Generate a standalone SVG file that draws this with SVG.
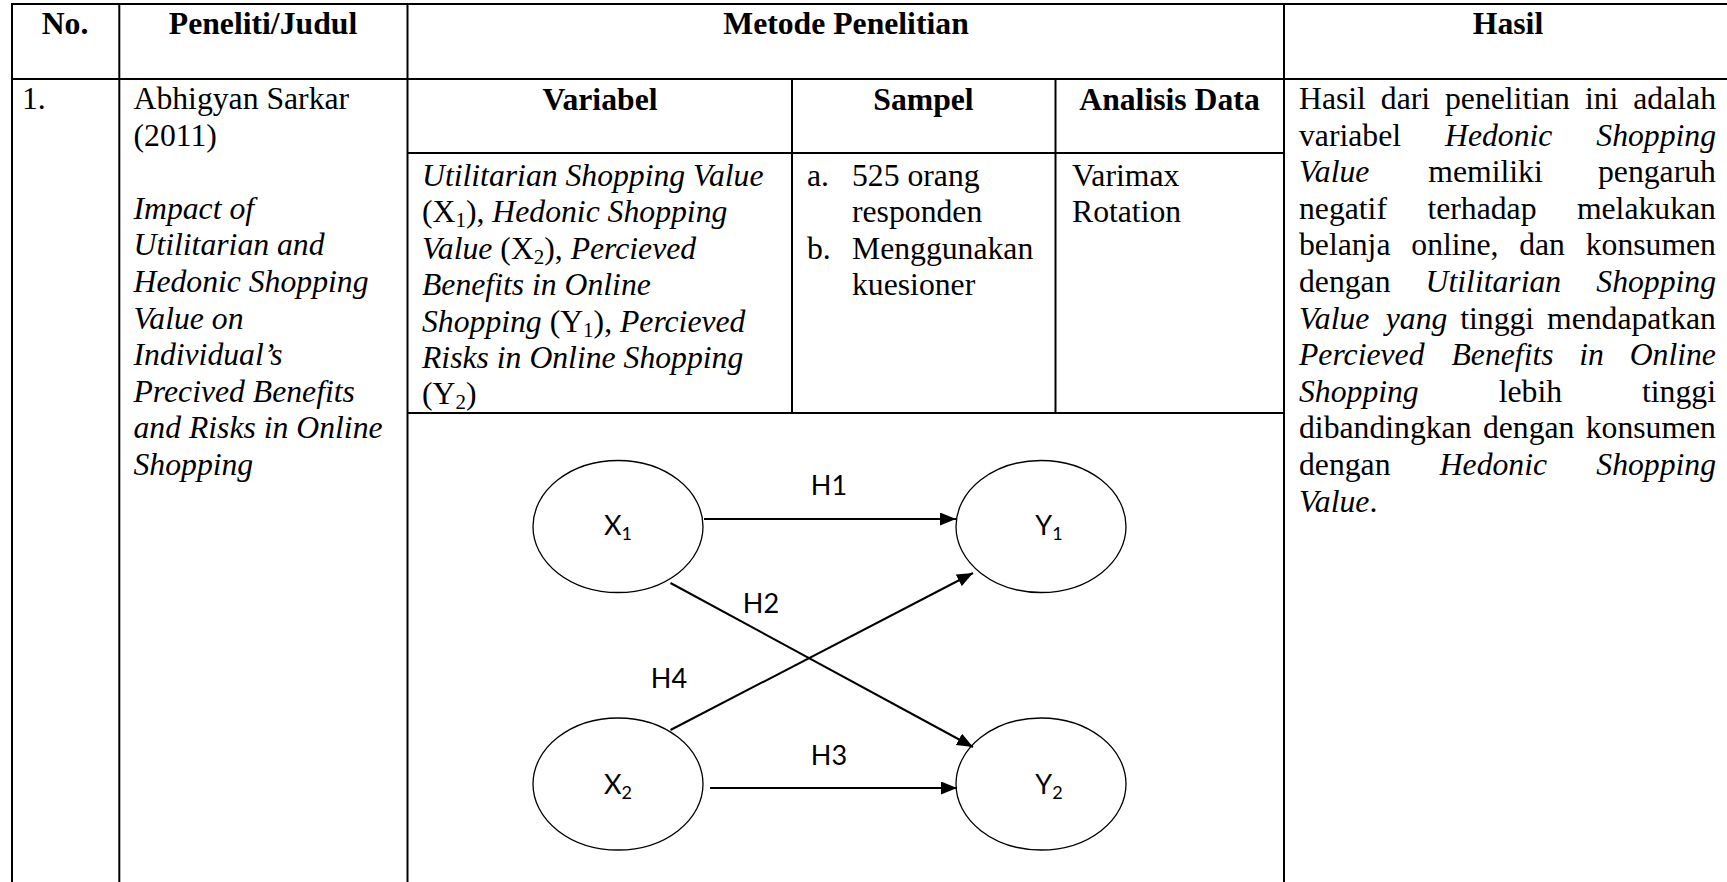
<svg xmlns="http://www.w3.org/2000/svg" width="1727" height="882" viewBox="0 0 1727 882">
<defs>
<style>
.t{font-family:"Liberation Serif","Times New Roman",serif;font-size:31.7px;fill:#000}
.b{font-weight:bold}
.i{font-style:italic}
.c{text-anchor:middle}
.e{text-anchor:end}
.s{font-size:21px}
.grid line{stroke:#000;stroke-width:2;fill:none}
.node ellipse{fill:none;stroke:#000;stroke-width:1.3}
.lbl{font-family:Lato,"Open Sans",sans-serif;font-size:27px;fill:#000;text-anchor:middle}
.lbl .s{font-size:18px}
.edge{stroke:#000;stroke-width:2;fill:none;marker-end:url(#arrow)}
</style>
<marker id="arrow" markerUnits="userSpaceOnUse" markerWidth="16" markerHeight="13" refX="16" refY="6.5" orient="auto"><path d="M0,0 L16,6.5 L0,13 Z" fill="#000"/></marker>
</defs>
<rect width="1727" height="882" fill="#fff"/>

<!-- table rules -->
<g id="grid" class="grid">
<line x1="11" y1="4" x2="1727" y2="4"/>
<line x1="11" y1="79" x2="1727" y2="79"/>
<line x1="12" y1="3" x2="12" y2="882"/>
<line x1="119.3" y1="3" x2="119.3" y2="882"/>
<line x1="407.5" y1="3" x2="407.5" y2="882"/>
<line x1="1284" y1="3" x2="1284" y2="882"/>
<line x1="407.5" y1="153" x2="1284" y2="153"/>
<line x1="407.5" y1="413" x2="1284" y2="413"/>
<line x1="792" y1="79" x2="792" y2="413"/>
<line x1="1055.5" y1="79" x2="1055.5" y2="413"/>
</g>

<!-- header row -->
<g id="header" class="t b c">
<text x="65" y="34">No.</text>
<text x="263" y="34">Peneliti/Judul</text>
<text x="846" y="34">Metode Penelitian</text>
<text x="1508" y="34">Hasil</text>
</g>

<!-- column 1: number -->
<g id="cell-no" class="t">
<text x="22" y="109">1.</text>
</g>

<!-- column 2: author and title -->
<g id="cell-title" class="t">
<text x="133.5" y="109">Abhigyan Sarkar</text>
<text x="133.5" y="145.6">(2011)</text>
<g class="i">
<text x="133.5" y="218.8">Impact of</text>
<text x="133.5" y="255.4">Utilitarian and</text>
<text x="133.5" y="292">Hedonic Shopping</text>
<text x="133.5" y="328.6">Value on</text>
<text x="133.5" y="365.2">Individual’s</text>
<text x="133.5" y="401.8">Precived Benefits</text>
<text x="133.5" y="438.4">and Risks in Online</text>
<text x="133.5" y="475">Shopping</text>
</g>
</g>

<!-- method sub-headers -->
<g id="method-header" class="t b c">
<text x="600" y="110">Variabel</text>
<text x="923.5" y="110">Sampel</text>
<text x="1169.5" y="110">Analisis Data</text>
</g>

<!-- variables -->
<g id="cell-variabel" class="t">
<text x="422" y="186"><tspan class="i">Utilitarian Shopping Value</tspan></text>
<text x="422" y="222.4">(X<tspan class="s" dy="5">1</tspan><tspan dy="-5">), </tspan><tspan class="i">Hedonic Shopping</tspan></text>
<text x="422" y="258.8"><tspan class="i">Value</tspan> (X<tspan class="s" dy="5">2</tspan><tspan dy="-5">), </tspan><tspan class="i">Percieved</tspan></text>
<text x="422" y="295.2"><tspan class="i">Benefits in Online</tspan></text>
<text x="422" y="331.6"><tspan class="i">Shopping</tspan> (Y<tspan class="s" dy="5">1</tspan><tspan dy="-5">), </tspan><tspan class="i">Percieved</tspan></text>
<text x="422" y="368"><tspan class="i">Risks in Online Shopping</tspan></text>
<text x="422" y="404.4">(Y<tspan class="s" dy="5">2</tspan><tspan dy="-5">)</tspan></text>
</g>

<!-- sample -->
<g id="cell-sampel" class="t">
<text x="807" y="186">a.</text>
<text x="852" y="186">525 orang</text>
<text x="852" y="222.4">responden</text>
<text x="807" y="258.8">b.</text>
<text x="852" y="258.8">Menggunakan</text>
<text x="852" y="295.2">kuesioner</text>
</g>

<!-- analysis -->
<g id="cell-analisis" class="t">
<text x="1072" y="186">Varimax</text>
<text x="1072" y="222.4">Rotation</text>
</g>

<!-- results, justified word by word between x=1299 and x=1716 -->
<g id="cell-hasil" class="t">
<text y="109"><tspan x="1299">Hasil</tspan><tspan x="1380.8">dari</tspan><tspan x="1445">penelitian</tspan><tspan x="1584.9">ini</tspan><tspan x="1633.3">adalah</tspan></text>
<text y="145.6"><tspan x="1299">variabel</tspan><tspan x="1445" class="i">Hedonic</tspan><tspan x="1596.3" class="i">Shopping</tspan></text>
<text y="182.2"><tspan x="1299" class="i">Value</tspan><tspan x="1428.3">memiliki</tspan><tspan x="1598">pengaruh</tspan></text>
<text y="218.8"><tspan x="1299">negatif</tspan><tspan x="1427.4">terhadap</tspan><tspan x="1576.9">melakukan</tspan></text>
<text y="255.4"><tspan x="1299">belanja</tspan><tspan x="1411.3">online,</tspan><tspan x="1519.2">dan</tspan><tspan x="1585.7">konsumen</tspan></text>
<text y="292"><tspan x="1299">dengan</tspan><tspan x="1425.6" class="i">Utilitarian</tspan><tspan x="1596.3" class="i">Shopping</tspan></text>
<text y="328.6"><tspan x="1299" class="i">Value</tspan><tspan x="1385.8" class="i">yang</tspan><tspan x="1460.2">tinggi</tspan><tspan x="1547">mendapatkan</tspan></text>
<text y="365.2" class="i"><tspan x="1299">Percieved</tspan><tspan x="1451.5">Benefits</tspan><tspan x="1579.3">in</tspan><tspan x="1629.7">Online</tspan></text>
<text y="401.8"><tspan x="1299" class="i">Shopping</tspan><tspan x="1498.7">lebih</tspan><tspan x="1642">tinggi</tspan></text>
<text y="438.4"><tspan x="1299">dibandingkan</tspan><tspan x="1482.9">dengan</tspan><tspan x="1585.7">konsumen</tspan></text>
<text y="475"><tspan x="1299">dengan</tspan><tspan x="1439.7" class="i">Hedonic</tspan><tspan x="1596.3" class="i">Shopping</tspan></text>
<text y="511.6"><tspan x="1299" class="i">Value</tspan><tspan>.</tspan></text>
</g>

<!-- research model -->
<g id="connectors">
<line class="edge" x1="704" y1="519" x2="956" y2="519"/>
<line class="edge" x1="670.5" y1="583" x2="973" y2="747"/>
<line class="edge" x1="710" y1="788" x2="957" y2="788"/>
<line class="edge" x1="670.5" y1="730" x2="973" y2="573"/>
<text class="lbl" x="829" y="495">H1</text>
<text class="lbl" x="761" y="613">H2</text>
<text class="lbl" x="829" y="765">H3</text>
<text class="lbl" x="669" y="688">H4</text>
</g>
<g id="node-x1" class="node">
<ellipse cx="618" cy="526.5" rx="85" ry="66"/>
<text class="lbl" x="618" y="535">X<tspan class="s" dy="5">1</tspan></text>
</g>
<g id="node-x2" class="node">
<ellipse cx="618" cy="784" rx="85" ry="66"/>
<text class="lbl" x="618" y="794">X<tspan class="s" dy="5">2</tspan></text>
</g>
<g id="node-y1" class="node">
<ellipse cx="1041" cy="526.5" rx="85" ry="66"/>
<text class="lbl" x="1049" y="535">Y<tspan class="s" dy="5">1</tspan></text>
</g>
<g id="node-y2" class="node">
<ellipse cx="1041" cy="784" rx="85" ry="66"/>
<text class="lbl" x="1049" y="794">Y<tspan class="s" dy="5">2</tspan></text>
</g>
</svg>
